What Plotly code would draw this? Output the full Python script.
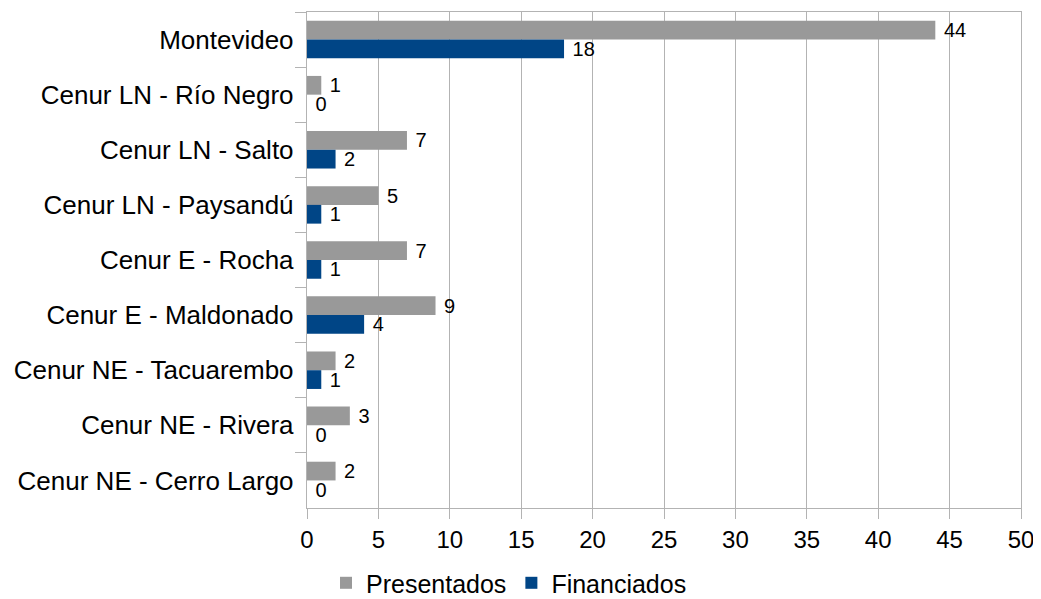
import plotly.graph_objects as go

categories = ["Montevideo", "Cenur LN - Río Negro", "Cenur LN - Salto", "Cenur LN - Paysandú",
              "Cenur E - Rocha", "Cenur E - Maldonado", "Cenur NE - Tacuarembo",
              "Cenur NE - Rivera", "Cenur NE - Cerro Largo"]
presentados = [44, 1, 7, 5, 7, 9, 2, 3, 2]
financiados = [18, 0, 2, 1, 1, 4, 1, 0, 0]
x_ticks = [0, 5, 10, 15, 20, 25, 30, 35, 40, 45, 50]

FONT = "Liberation Sans, Arial, sans-serif"

fig = go.Figure()
fig.add_trace(go.Bar(
    y=categories, x=presentados, orientation="h", name="Presentados",
    marker=dict(color="#999999", line=dict(width=0)),
    text=presentados, texttemplate=" %{x}", textposition="outside", cliponaxis=False,
    constraintext="none",
    textfont=dict(size=20, color="#000000", family=FONT),
))
fig.add_trace(go.Bar(
    y=categories, x=financiados, orientation="h", name="Financiados",
    marker=dict(color="#004586", line=dict(width=0)),
    text=financiados, texttemplate=" %{x}", textposition="outside", cliponaxis=False,
    constraintext="none",
    textfont=dict(size=20, color="#000000", family=FONT),
))

fig.update_layout(
    width=1033, height=591,
    margin=dict(l=299, r=20, t=4, b=91),
    barmode="group", bargap=0.32, bargroupgap=0,
    plot_bgcolor="white", paper_bgcolor="white",
    font=dict(family=FONT, size=25, color="#000000"),
    showlegend=True,
    legend=dict(orientation="h", xref="container", yref="container",
                x=0.485, xanchor="center", y=0.027, yanchor="middle",
                font=dict(size=25), itemsizing="constant", traceorder="normal"),
    xaxis=dict(range=[0, 50], tickvals=x_ticks, showgrid=True, gridcolor="#b3b3b3",
               gridwidth=1, zeroline=False, showline=True, linecolor="#b3b3b3",
               mirror=True, ticks="outside", ticklen=10, tickcolor="#b3b3b3",
               tickfont=dict(size=24)),
    yaxis=dict(autorange="reversed", showgrid=False, zeroline=False, showline=True,
               linecolor="#b3b3b3", mirror=True, ticks="outside", ticklen=11,
               tickcolor="#b3b3b3", tickson="boundaries", tickfont=dict(size=26),
               ticksuffix=" "),
)

fig.write_html("out.html")
